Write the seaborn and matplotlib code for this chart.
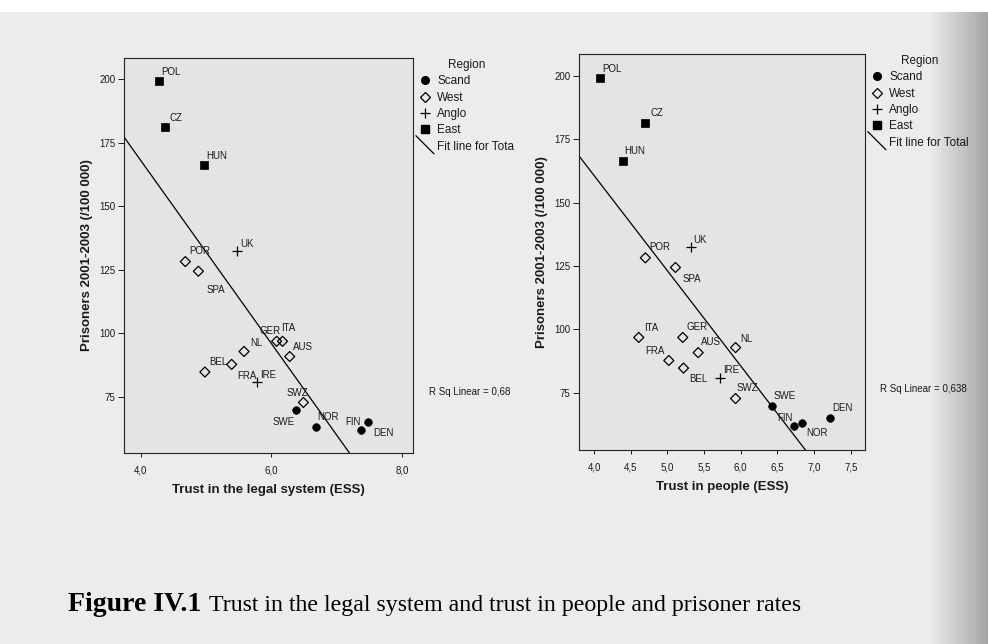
import numpy as np
import pandas as pd
import matplotlib
matplotlib.use('Agg')
import matplotlib.pyplot as plt
import seaborn as sns
from matplotlib.lines import Line2D
from matplotlib.legend_handler import HandlerBase
from matplotlib.ticker import FuncFormatter, FixedLocator

# values
countries = ['POL', 'CZ', 'HUN', 'UK', 'POR', 'SPA', 'GER', 'ITA', 'AUS',
             'NL', 'BEL', 'FRA', 'IRE', 'SWZ', 'SWE', 'NOR', 'FIN', 'DEN']
regions = ['East', 'East', 'East', 'Anglo', 'West', 'West', 'West', 'West', 'West',
           'West', 'West', 'West', 'Anglo', 'West', 'Scand', 'Scand', 'Scand', 'Scand']
prisoners = [199.3, 181.2, 166.3, 132.4, 128.2, 124.4, 96.8, 96.8, 90.8,
             92.8, 84.7, 87.7, 80.9, 72.7, 69.9, 62.9, 62.0, 65.0]
trust_legal = [4.27, 4.37, 4.97, 5.47, 4.68, 4.88, 6.08, 6.17, 6.28,
               5.58, 4.98, 5.39, 5.78, 6.49, 6.38, 6.68, 7.38, 7.48]
trust_people = [4.08, 4.69, 4.39, 5.32, 4.70, 5.11, 5.21, 4.61, 5.42,
                5.93, 5.22, 5.02, 5.72, 5.93, 6.43, 6.83, 6.73, 7.22]

region_names = ['Scand', 'West', 'Anglo', 'East']
y_ticks = [75, 100, 125, 150, 175, 200]
legal_xticks = [4.0, 6.0, 8.0]
people_xticks = [4.0, 4.5, 5.0, 5.5, 6.0, 6.5, 7.0, 7.5]
r2_legal = 'R Sq Linear = 0,68'
r2_people = 'R Sq Linear = 0,638'
# the left legend is cut off by the right panel in the scan
fit_labels = ['Fit line for Tota', 'Fit line for Total']
caption_bold = 'Figure IV.1'
caption_text = 'Trust in the legal system and trust in people and prisoner rates'

# where the country labels sit relative to the marker (pixels, right / down)
legal_offsets = {
    'POL': (12, -9), 'CZ': (11, -9), 'HUN': (12, -9), 'UK': (10, -7),
    'POR': (14, -11), 'SPA': (18, 19), 'GER': (-7, -10), 'ITA': (6, -13),
    'AUS': (13, -10), 'NL': (12, -8), 'BEL': (13, -10), 'FRA': (15, 12),
    'IRE': (11, -7), 'SWZ': (-6, -9), 'SWE': (-13, 12), 'NOR': (12, -10),
    'FIN': (-9, -8), 'DEN': (15, 11),
}
people_offsets = {
    'POL': (12, -9), 'CZ': (12, -10), 'HUN': (12, -10), 'UK': (9, -7),
    'POR': (14, -11), 'SPA': (16, 12), 'GER': (14, -10), 'ITA': (12, -9),
    'AUS': (13, -11), 'NL': (11, -9), 'BEL': (15, 11), 'FRA': (-14, -10),
    'IRE': (11, -8), 'SWZ': (12, -11), 'SWE': (12, -10), 'NOR': (15, 10),
    'FIN': (-9, -8), 'DEN': (12, -10),
}

df = pd.DataFrame({'country': countries, 'region': regions, 'prisoners': prisoners,
                   'legal': trust_legal, 'people': trust_people})

sns.set_theme(style='ticks')
plt.rcParams['font.family'] = ['Liberation Sans', 'DejaVu Sans']
plt.rcParams['axes.edgecolor'] = '#222222'
plt.rcParams['axes.linewidth'] = 0.8

plot_bg = '#e4e4e4'
ink = '#1a1a1a'

styles = {
    'Scand': dict(marker='o', color='black', edgecolor='black', s=30, linewidth=0.5),
    'West': dict(marker='D', facecolor='none', edgecolor='black', s=26, linewidth=0.9),
    'Anglo': dict(marker='+', color='black', s=45, linewidth=0.9),
    'East': dict(marker='s', color='black', edgecolor='black', s=30, linewidth=0.5),
}

fig = plt.figure(figsize=(9.88, 6.44), dpi=100, facecolor='white')

# scanned page tone, darker towards the binding on the right
bg = fig.add_axes([0, 0, 1, 1 - 12 / 644], zorder=-10)
ramp = np.linspace(0, 1, 300)
shade = np.where(ramp > 0.94, 0.925 - (ramp - 0.94) / 0.06 * 0.28, 0.925)
bg.imshow(shade[None, :], cmap='gray', vmin=0, vmax=1, aspect='auto', extent=[0, 1, 0, 1])
bg.axis('off')

ax1 = fig.add_axes([124 / 988, 1 - 453 / 644, 289 / 988, 395 / 644])
ax2 = fig.add_axes([579 / 988, 1 - 450 / 644, 286 / 988, 396 / 644])


def comma(v, pos):
    return f'{v:.1f}'.replace('.', ',')


def draw_panel(ax, xcol, xlim, ylim, xticks, xlabel, offsets):
    ax.set_facecolor(plot_bg)
    ax.set_xlim(xlim)
    ax.set_ylim(ylim)
    sns.regplot(data=df, x=xcol, y='prisoners', scatter=False, ci=None, truncate=False,
                color='black', line_kws=dict(lw=0.9), ax=ax)
    for reg in region_names:
        sub = df[df['region'] == reg]
        sns.scatterplot(data=sub, x=xcol, y='prisoners', ax=ax, legend=False,
                        zorder=3, **styles[reg])
    for _, row in df.iterrows():
        dx, dy = offsets[row['country']]
        ax.annotate(row['country'], (row[xcol], row['prisoners']), xytext=(dx, -dy),
                    textcoords='offset pixels', ha='center', va='center',
                    fontsize=7, color=ink)
    ax.set_xlim(xlim)
    ax.set_ylim(ylim)
    ax.xaxis.set_major_locator(FixedLocator(xticks))
    ax.xaxis.set_major_formatter(FuncFormatter(comma))
    ax.yaxis.set_major_locator(FixedLocator(y_ticks))
    ax.tick_params(axis='y', length=4, width=0.7, pad=2, labelsize=7, colors=ink)
    ax.tick_params(axis='x', length=3, width=0.7, pad=6, labelsize=7, colors=ink)
    ax.set_xlabel(xlabel, fontsize=9.5, fontweight='bold', color=ink, labelpad=6)
    ax.set_ylabel('Prisoners 2001-2003 (/100 000)', fontsize=9.5, fontweight='bold',
                  color=ink, labelpad=5)
    for s in ax.spines.values():
        s.set_visible(True)


draw_panel(ax1, 'legal', (3.74, 8.17), (52.8, 208.4), legal_xticks,
           'Trust in the legal system (ESS)', legal_offsets)
draw_panel(ax2, 'people', (3.795, 7.695), (52.4, 208.6), people_xticks,
           'Trust in people (ESS)', people_offsets)


class DiagHandler(HandlerBase):
    def create_artists(self, legend, orig_handle, xdescent, ydescent, width, height,
                       fontsize, trans):
        cx = width / 2 - xdescent
        cy = height / 2 - ydescent
        ln = Line2D([cx - 6.5, cx + 6.5], [cy + 7.2, cy - 5.8], color='black', lw=0.9,
                    transform=trans)
        return [ln]


handles = [
    Line2D([], [], ls='', marker='o', color='black', markersize=5.5),
    Line2D([], [], ls='', marker='D', mfc='none', mec='black', markersize=5.5, mew=0.9),
    Line2D([], [], ls='', marker='+', color='black', markersize=7, mew=0.9),
    Line2D([], [], ls='', marker='s', color='black', markersize=5.5),
]
fit_handle = Line2D([], [], color='black', lw=0.9)

for anchor, fit_label in zip([(419 / 988, 1 - 59 / 644), (871 / 988, 1 - 55 / 644)],
                             fit_labels):
    leg = fig.legend(handles + [fit_handle], region_names + [fit_label],
                     loc='upper left', bbox_to_anchor=anchor, frameon=False,
                     fontsize=8.5, title='Region', title_fontsize=8.5, handlelength=1.0,
                     handletextpad=0.55, labelspacing=0.37, borderpad=0,
                     borderaxespad=0, handler_map={fit_handle: DiagHandler()})
    for t in leg.get_texts():
        t.set_color(ink)
    leg.get_title().set_color(ink)

fig.text(429 / 988, 1 - 392 / 644, r2_legal, fontsize=7, color=ink, ha='left', va='center')
fig.text(880 / 988, 1 - 389 / 644, r2_people, fontsize=7, color=ink, ha='left', va='center')

cap = fig.text(68 / 988, 1 - 611 / 644, caption_bold, fontsize=20, fontweight='bold',
               family='Liberation Serif', color='black', ha='left', va='baseline')
fig.canvas.draw()
bb = cap.get_window_extent()
fig.text((bb.x1 + 8) / 988, 1 - 611 / 644, caption_text, fontsize=17.2,
         family='Liberation Serif', color='black', ha='left', va='baseline')

fig.savefig('out.png', dpi=100, facecolor=fig.get_facecolor())
